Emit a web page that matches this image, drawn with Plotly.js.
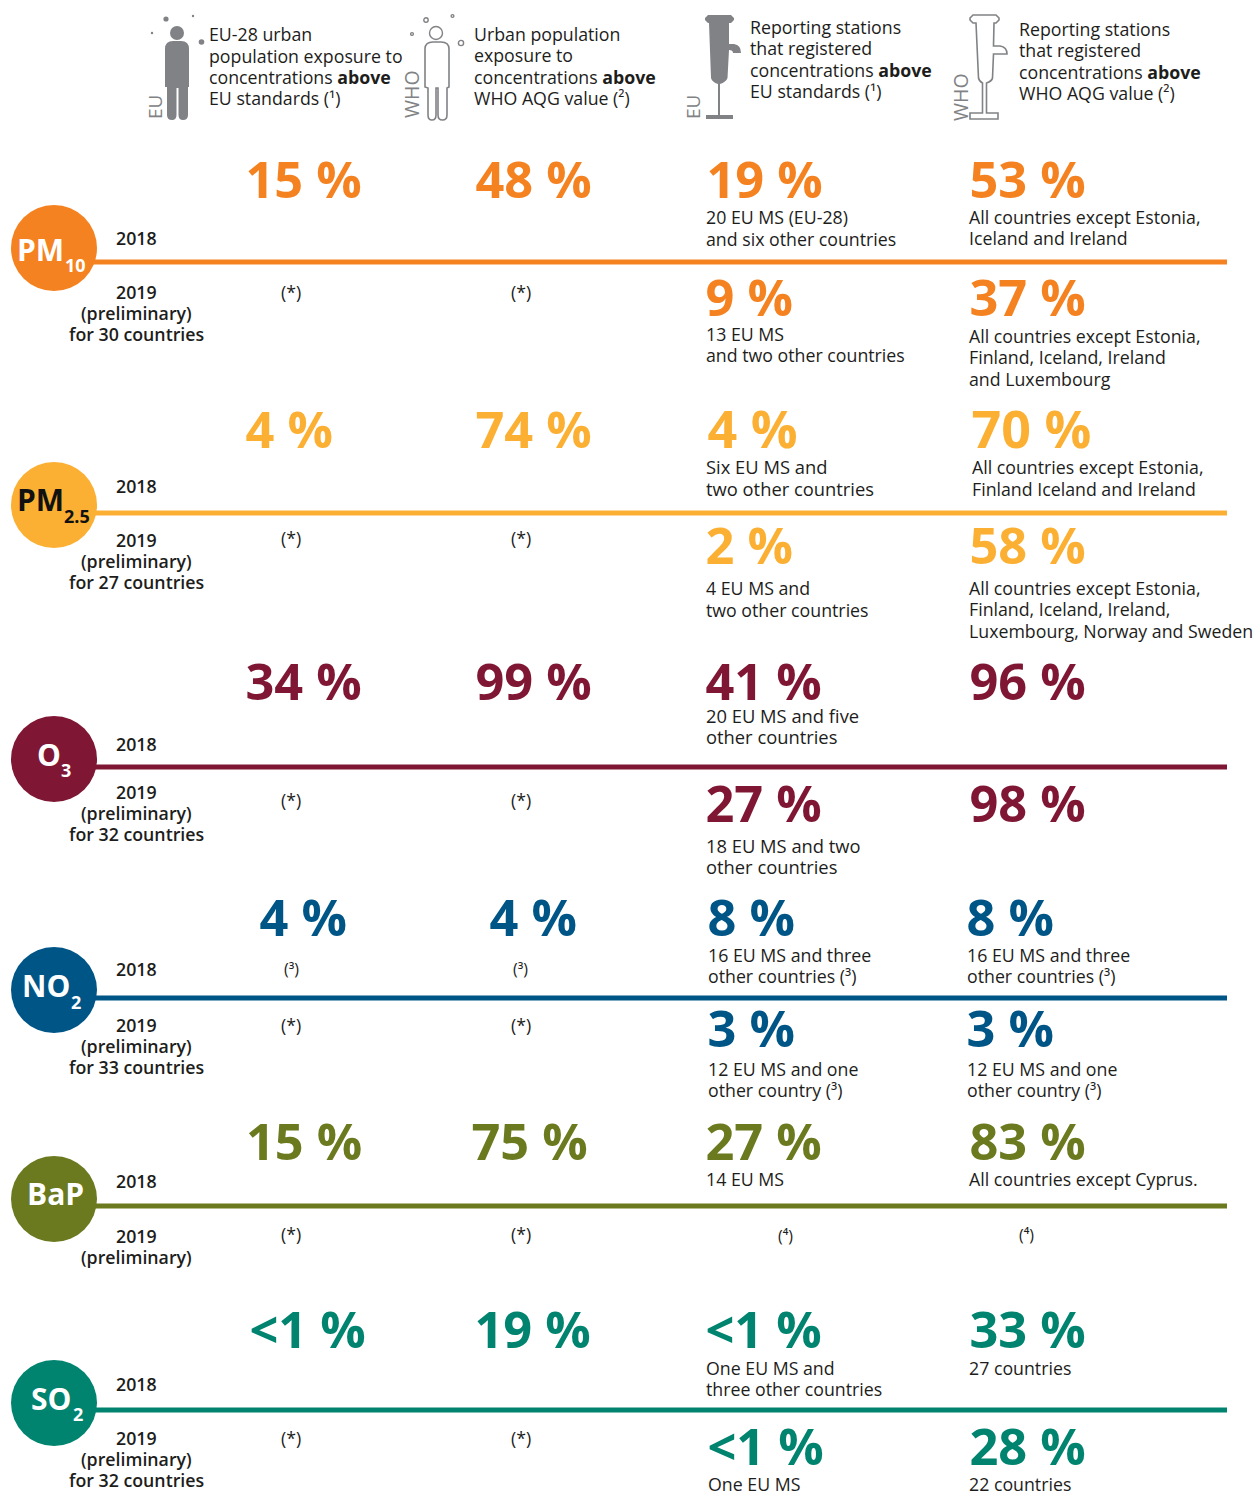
<!DOCTYPE html>
<html><head><meta charset="utf-8">
<script src="https://cdn.plot.ly/plotly-3.0.1.min.js"></script>
<style>html,body{margin:0;padding:0;background:#fff}#c{width:1255px;height:1492px}</style>
</head><body><div id="c"></div>
<script>
// ---------- values ----------
const pollutants = ['PM','PM','O','NO','BaP','SO'];
const pollutantSubs = ['10','2.5','3','2','','2'];
const popEU2018 = ['15 %','4 %','34 %','4 %','15 %','&lt;1 %'];
const popWHO2018 = ['48 %','74 %','99 %','4 %','75 %','19 %'];
const stationEU2018 = ['19 %','4 %','41 %','8 %','27 %','&lt;1 %'];
const stationWHO2018 = ['53 %','70 %','96 %','8 %','83 %','33 %'];
const stationEU2019 = ['9 %','2 %','27 %','3 %',null,'&lt;1 %'];
const stationWHO2019 = ['37 %','58 %','98 %','3 %',null,'28 %'];
const countries2019 = [30,27,32,33,null,32];
const colors = ['#F58220','#FBB034','#7F1734','#005587','#6B7A1F','#008470'];
const labelColors = ['#fff','#111','#fff','#fff','#fff','#fff'];
const gray = '#808285';
const ink = '#1d1d1b';
const headers = [
 ['EU-28 urban','population exposure to','concentrations <b>above</b>','EU standards (¹)'],
 ['Urban population','exposure to','concentrations <b>above</b>','WHO AQG value (²)'],
 ['Reporting stations','that registered','concentrations <b>above</b>','EU standards (¹)'],
 ['Reporting stations','that registered','concentrations <b>above</b>','WHO AQG value (²)']
];
const captions = [
 '20 EU MS (EU-28)','and six other countries','All countries except Estonia,','Iceland and Ireland',
 '13 EU MS','and two other countries','All countries except Estonia,','Finland, Iceland, Ireland','and Luxembourg',
 'Six EU MS and','two other countries','All countries except Estonia,','Finland Iceland and Ireland',
 '4 EU MS and','two other countries','All countries except Estonia,','Finland, Iceland, Ireland,','Luxembourg, Norway and Sweden',
 '20 EU MS and five','other countries',
 '18 EU MS and two','other countries',
 '16 EU MS and three','other countries (³)','16 EU MS and three','other countries (³)',
 '12 EU MS and one','other country (³)','12 EU MS and one','other country (³)',
 '14 EU MS','All countries except Cyprus.',
 'One EU MS and','three other countries','27 countries',
 'One EU MS','22 countries'
];

// ---------- layout positions ----------
const captionX = [706,706,969,969, 706,706,969,969,969, 706,706,972,972, 706,706,969,969,969, 706,706, 706,706,
 708,708,967,967, 708,708,967,967, 706,969, 706,706,969, 708,969];
const captionY = [218,240,218,239, 335,356,337,358,380, 467,489,468,490, 589,611,589,610,632, 716,737, 846,867,
 956,977,956,977, 1070,1091,1070,1091, 1180,1180, 1369,1390,1369, 1485,1485];
const largerCaptions = [9,10,18,19,20,21];
const headerX = [209,474,750,1019];
const headerY = [[35,57,78,99],[35,56,78,99],[28,49,71,92],[30,51,73,94]];
const lineY = [262,513,767,998,1206,1410];
const circleY = [248,505,759,990,1199,1403];
const y2018 = [239,487,745,970,1182,1385];
const y2019 = [293,541,793,1026,1237,1439];
const starY = [293,539,801,1026,1235,1439];
const popY = [185,435,687,923,1147,1335];
const st19Y = [303,551,809,1034,null,1452];
const xPopEU = [245.5,245.5,245.5,259.5,246,249.5];
const xPopWHO = [475.5,475.5,475.5,489.5,471.5,474.5];
const xStEU18 = [706.5,707.5,705.5,707.5,705.5,705.5];
const xStWHO18 = [969.5,971.5,969.5,966.5,969.5,969.5];
const xStEU19 = [705.5,705.5,705.5,707.5,null,707.5];
const xStWHO19 = [969.5,969.5,969.5,966.5,null,969.5];
const nameX = [40.5,40.5,49,46,55.5,51];
const subX = [75,77,66,76,0,78];
const nameDY = [2,-5,-4,-4,-5,-4];
const subDY = [18,12,12,13,0,12];

// ---------- marks ----------
const OS = '"Open Sans", sans-serif';
const traces = [];
colors.forEach((c,i)=>{
  traces.push({type:'scatter',mode:'lines',x:[54,1227],y:[lineY[i],lineY[i]],line:{color:c,width:5},hoverinfo:'skip',showlegend:false});
});
traces.push({type:'scatter',mode:'markers',x:circleY.map(()=>54),y:circleY,
  marker:{size:86,color:colors,line:{width:0}},hoverinfo:'skip',showlegend:false});
colors.forEach((c,i)=>{
  const big = i===1 ? 52 : 50.5;
  const pts=[[xPopEU[i],popY[i],popEU2018[i],50.5],[xPopWHO[i],popY[i],popWHO2018[i],50.5],
    [xStEU18[i],popY[i],stationEU2018[i],big],[xStWHO18[i],popY[i],stationWHO2018[i],big],
    [xStEU19[i],st19Y[i],stationEU2019[i],50.5],[xStWHO19[i],st19Y[i],stationWHO2019[i],50.5]].filter(p=>p[2]!==null);
  traces.push({type:'scatter',mode:'text',x:pts.map(p=>p[0]),y:pts.map(p=>p[1]),text:pts.map(p=>p[2]),
    textposition:'middle right',textfont:{family:OS,size:pts.map(p=>p[3]),color:c,weight:700},cliponaxis:false,hoverinfo:'skip',showlegend:false});
});

const ann=[];
function T(x,y,text,opt){opt=opt||{};
  ann.push({xref:'x',yref:'y',x:x,y:y-1,text:text,showarrow:false,xanchor:opt.anchor||'left',yanchor:'middle',
    textangle:opt.angle||0,borderpad:0,borderwidth:0,
    font:{family:OS,size:opt.size||17.75,color:opt.color||ink,weight:opt.weight||400}});
}
headers.forEach((h,k)=>h.forEach((t,j)=>T(headerX[k],headerY[k][j],t)));
captions.forEach((t,i)=>T(captionX[i],captionY[i],t,{size:largerCaptions.includes(i)?18.35:17.75}));
pollutants.forEach((p,i)=>{
  const yr={anchor:'center',size:17.75,weight:600};
  T(136.5,y2018[i],'2018',yr);
  T(136.5,y2019[i],'2019',yr);
  T(136.5,y2019[i]+21,'(preliminary)',yr);
  if(countries2019[i]!==null) T(136.5,y2019[i]+42,'for '+countries2019[i]+' countries',yr);
  T(291,starY[i],'(*)',{anchor:'center'});
  T(521,starY[i],'(*)',{anchor:'center'});
  T(nameX[i],circleY[i]+nameDY[i],p,{anchor:'center',size:30,color:labelColors[i],weight:700});
  if(pollutantSubs[i]) T(subX[i],circleY[i]+subDY[i],pollutantSubs[i],{anchor:'center',size:18,color:labelColors[i],weight:700});
});
T(291.5,970,'(³)',{anchor:'center',size:16});
T(520,970,'(³)',{anchor:'center',size:16});
T(785,1237,'(⁴)',{anchor:'center',size:16});
T(1026,1236,'(⁴)',{anchor:'center',size:16});
T(155,108,'EU',{anchor:'center',angle:-90,color:gray,size:19});
T(411,95,'WHO',{anchor:'center',angle:-90,color:gray,size:19.5});
T(693,108,'EU',{anchor:'center',angle:-90,color:gray,size:19});
T(960,98,'WHO',{anchor:'center',angle:-90,color:gray,size:19.5});

// ---------- icons ----------
const shapes=[];
function P(path,fill,stroke){shapes.push({type:'path',xref:'x',yref:'y',path:path,fillcolor:fill||'rgba(0,0,0,0)',
  line:{color:stroke||'rgba(0,0,0,0)',width:stroke?1.6:0},layer:'above'});}
function C(cx,cy,r,fill,stroke){shapes.push({type:'circle',xref:'x',yref:'y',x0:cx-r,x1:cx+r,y0:cy-r,y1:cy+r,
  fillcolor:fill||'rgba(0,0,0,0)',line:{color:stroke||'rgba(0,0,0,0)',width:stroke?1.4:0},layer:'above'});}
// filled person
C(177,33,7,gray); C(166,19,2.6,gray); C(193,16,1.2,gray); C(152,33,1.2,gray); C(201.5,42,2.8,gray);
P('M165,49 Q165,41 173,41 L181,41 Q189,41 189,49 L189,87 L188,87 L188,115 Q188,120 183,120 Q178.5,120 178.5,115 L178.5,88 L176.5,88 L176.5,115 Q176.5,120 172,120 Q167,120 167,115 L167,87 L165,87 Z',gray);
// outlined person
C(436,33,6.5,null,gray); C(426,20,2.2,null,gray); C(452.5,16,1.4,null,gray); C(412,34,1.4,null,gray); C(461,43,2.6,null,gray);
P('M425,49 Q425,42 433,42 L441,42 Q449,42 449,49 L449,87 L447,88 L447,115 Q447,120 442.5,120 Q438,120 438,115 L438,88 L436,88 L436,115 Q436,120 432,120 Q428,120 428,115 L428,88 L425,87 Z',null,gray);
// filled pump
P('M705,18 L708,15 L731,15 L734,18 L734,20 L731,23 L729,23 L729,44 L734,44 Q741,45 741,53 L733,53 Q733,50 729,50 L727.5,78 Q726,82 720,84 L720,115 L733,115 L733,119 L706,119 L706,115 L718,115 L718,84 Q712,82 711,78 L709,23 L708,23 L705,20 Z',gray);
// outlined pump
P('M970,18 L973,15 L996,15 L999,18 L999,20 L996,23 L994,23 L993.5,46 L1000,46 Q1007,47 1007,54 L993.5,54 L992.5,78 Q992,81 986.5,83 L986.5,113 L998,113 L998,119 L970,119 L970,113 L982.5,113 L982.5,83 Q979,81 978.5,78 L976,23 L973,23 L970,20 Z',null,gray);

Plotly.newPlot('c',traces,{
  width:1255,height:1492,margin:{l:0,r:0,t:0,b:0,pad:0},
  paper_bgcolor:'#fff',plot_bgcolor:'#fff',showlegend:false,hovermode:false,
  xaxis:{range:[0,1255],visible:false,fixedrange:true},
  yaxis:{range:[1492,0],visible:false,fixedrange:true},
  annotations:ann,shapes:shapes
},{displayModeBar:false,staticPlot:true});
</script></body></html>
